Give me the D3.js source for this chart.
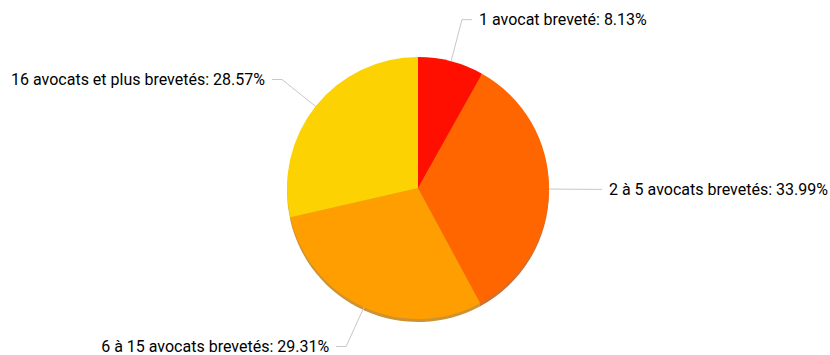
<!DOCTYPE html>
<html>
<head>
<meta charset="utf-8">
<script src="https://cdn.jsdelivr.net/npm/d3@7"></script>
<style>
  html, body { margin: 0; padding: 0; background: #fff; }
  svg { display: block; font-family: Roboto, "Noto Sans", sans-serif; }
</style>
</head>
<body>
<svg width="830" height="355"></svg>
<script>
// catégories et valeurs (%)
const categories = [
  "1 avocat breveté",
  "2 à 5 avocats brevetés",
  "6 à 15 avocats brevetés",
  "16 avocats et plus brevetés"
];
const values = [8.13, 33.99, 29.31, 28.57];
const colors = ["#FF0F00", "#FF6600", "#FF9E01", "#FCD202"];

drawPie();

function drawPie() {
  const svg = d3.select("svg");
  const cx = 418, cy = 188, radius = 131;
  const lineLen = 43, hLen = 10, gap = 7;

  const data = categories.map((c, i) => ({ label: c, value: values[i], color: colors[i] }));

  const pie = d3.pie().sort(null).value((d) => d.value);
  const arc = d3.arc().innerRadius(0).outerRadius(radius);
  const arcs = pie(data);

  const g = svg.append("g").attr("transform", `translate(${cx},${cy})`);

  // ombre (copie plus foncée décalée vers le bas)
  g.append("g")
    .attr("transform", "translate(0,3)")
    .selectAll("path")
    .data(arcs)
    .enter()
    .append("path")
    .attr("d", arc)
    .attr("fill", (d) => d3.color(d.data.color).darker(0.8))
    .attr("opacity", 0.8);

  g.selectAll(".slice")
    .data(arcs)
    .enter()
    .append("path")
    .attr("class", "slice")
    .attr("d", arc)
    .attr("fill", (d) => d.data.color);

  // étiquettes + lignes
  arcs.forEach((d) => {
    const a = (d.startAngle + d.endAngle) / 2;
    const sx = Math.sin(a), sy = -Math.cos(a);
    const p0 = [sx * radius, sy * radius];
    const p1 = [sx * (radius + lineLen), sy * (radius + lineLen)];
    const right = sx >= 0;
    const p2 = [p1[0] + (right ? hLen : -hLen), p1[1]];

    g.append("polyline")
      .attr("points", [p0, p1, p2].map((p) => p.join(",")).join(" "))
      .attr("fill", "none")
      .attr("stroke", "#c8c8c8")
      .attr("stroke-width", 1);

    g.append("text")
      .attr("x", p2[0] + (right ? gap : -gap))
      .attr("y", p2[1])
      .attr("dy", "0.35em")
      .attr("text-anchor", right ? "start" : "end")
      .attr("font-size", "16px")
      .attr("fill", "#000")
      .text(`${d.data.label}: ${d.data.value.toFixed(2)}%`);
  });
}
</script>
</body>
</html>
